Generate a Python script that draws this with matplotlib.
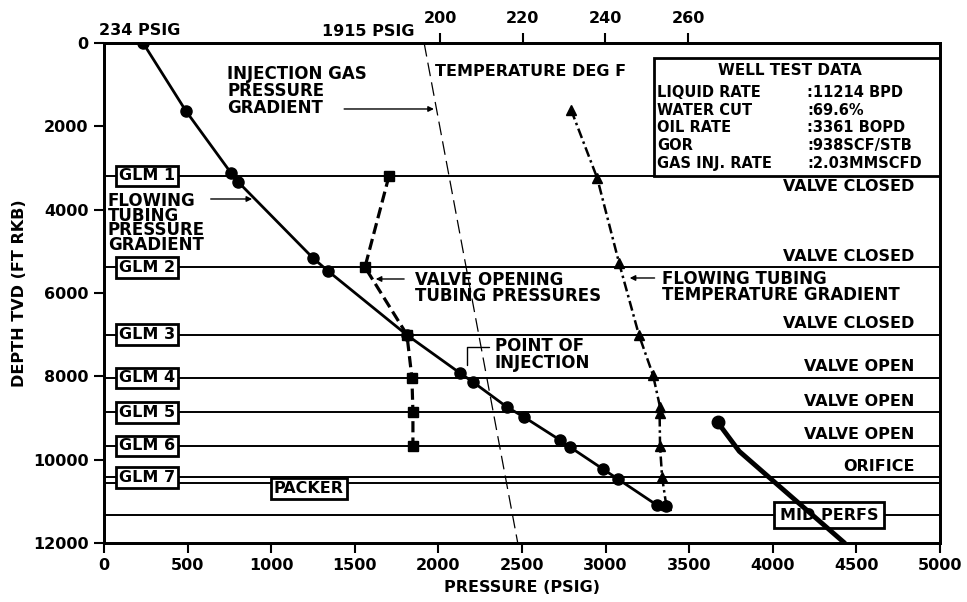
import matplotlib.pyplot as plt
from matplotlib.patches import Rectangle

plt.rcParams['font.family'] = ['DejaVu Sans']
plt.rcParams['font.weight'] = 'bold'

# flowing tubing pressure gradient (psig vs ft)
ftp_psig = [234, 490, 760, 803, 1250, 1340, 1812, 2129, 2207, 2410, 2512,
            2727, 2787, 2984, 3074, 3307, 3362]
ftp_depth = [0, 1630, 3120, 3336, 5160, 5472, 7008, 7920, 8136, 8736, 8976,
             9528, 9696, 10224, 10464, 11090, 11110]

# valve opening tubing pressures
vo_psig = [1705, 1561, 1812, 1842, 1848, 1848]
vo_depth = [3190, 5380, 7000, 8040, 8860, 9670]

# injection gas pressure gradient
gas_psig = [1915, 2475]
gas_depth = [0, 12000]

# flowing tubing temperature gradient (deg F)
temp_degf = [231.7, 238.0, 243.3, 248.1, 251.5, 253.2, 253.1, 253.2, 253.7, 254.7]
temp_depth = [1608, 3240, 5280, 7008, 7968, 8736, 8880, 9670, 10420, 11090]

# reservoir line below the perfs
res_psig = [3670, 3800, 4000, 4430]
res_depth = [9100, 9800, 10500, 12000]

# mandrels
glm_names = ['GLM 1', 'GLM 2', 'GLM 3', 'GLM 4', 'GLM 5', 'GLM 6', 'GLM 7']
glm_depth = [3190, 5380, 7000, 8040, 8860, 9670, 10420]
glm_status = ['VALVE CLOSED', 'VALVE CLOSED', 'VALVE CLOSED', 'VALVE OPEN',
              'VALVE OPEN', 'VALVE OPEN', 'ORIFICE']
packer_depth = 10570
perfs_depth = 11330

well_rows = ['LIQUID RATE', 'WATER CUT', 'OIL RATE', 'GOR', 'GAS INJ. RATE']
well_vals = [':11214 BPD', ':69.6%', ':3361 BOPD', ':938SCF/STB', ':2.03MMSCFD']

fig = plt.figure(figsize=(9.67, 6.02), dpi=100)
ax = fig.add_axes([0.1075, 0.098, 0.8645, 0.8306])

ax.set_xlim(0, 5000)
ax.set_ylim(12000, 0)
ax.set_xticks(range(0, 5001, 500))
ax.set_yticks(range(0, 12001, 2000))
ax.tick_params(direction='out', length=7, width=1.5, labelsize=11.5, pad=4)
for s in ax.spines.values():
    s.set_linewidth(2)
ax.set_xlabel('PRESSURE (PSIG)', fontsize=11.5, fontweight='bold', labelpad=5)
ax.set_ylabel('DEPTH TVD (FT RKB)', fontsize=11.5, fontweight='bold', labelpad=4)

# horizontal reference lines
ax.hlines(glm_depth, 0, 5000, colors='black', lw=1.4, zorder=1)
ax.hlines([packer_depth, perfs_depth], 0, 5000, colors='black', lw=1.4, zorder=1)

box = dict(boxstyle='square,pad=0.18', fc='white', ec='black', lw=2)
for name, d in zip(glm_names, glm_depth):
    ax.text(257, d, name, ha='center', va='center', fontsize=11.5, bbox=box, zorder=3)
for st, d in zip(glm_status, glm_depth):
    ax.text(4850, d - 265, st, ha='right', va='center', fontsize=11.5, zorder=3)
ax.texts[-len(glm_status)].set_y(3456)

ax.text(1226, 10690, 'PACKER', ha='center', va='center', fontsize=11.5, bbox=box, zorder=3)
ax.text(4336, perfs_depth, 'MID PERFS', ha='center', va='center', fontsize=11.5,
        bbox=dict(boxstyle='square,pad=0.35', fc='white', ec='black', lw=2), zorder=3)

# well test data box
ax.add_patch(Rectangle((3290, 360), 1710, 2830, fc='white', ec='black', lw=2, zorder=3))
ax.text(4100, 650, 'WELL TEST DATA', ha='center', va='center', fontsize=11, zorder=4)
for i, (r, v) in enumerate(zip(well_rows, well_vals)):
    y = 1180 + i * 430
    ax.text(3310, y, r, ha='left', va='center', fontsize=10.5, zorder=4)
    ax.text(4205, y, v, ha='left', va='center', fontsize=10.5, zorder=4)

# curves
ax.plot(gas_psig, gas_depth, color='black', lw=0.9, ls=(0, (11, 5)), zorder=2)
ax.plot(ftp_psig, ftp_depth, color='black', lw=2, marker='o', markersize=8, zorder=5)
ax.plot(vo_psig, vo_depth, color='black', lw=2.3, ls=(0, (3.5, 1.6)),
        marker='s', markersize=7, zorder=5)
ax.plot(res_psig, res_depth, color='black', lw=3.5, marker='o', markersize=9,
        markevery=[0], solid_capstyle='round', zorder=6)

ax2 = ax.twiny()
ax2.set_xlim(118.7, 320.9)
ax2.set_xticks([200, 220, 240, 260])
ax2.tick_params(direction='out', length=7, width=1.5, labelsize=11.5, pad=5)
for s in ax2.spines.values():
    s.set_linewidth(2)
ax2.plot(temp_degf, temp_depth, color='black', lw=1.8, ls=(0, (4, 1.5, 1, 1.5)),
         marker='^', markersize=7, zorder=5)

# annotations
ax.text(215, -300, '234 PSIG', ha='center', va='center', fontsize=11.5, clip_on=False)
ax.text(1860, -270, '1915 PSIG', ha='right', va='center', fontsize=11.5, clip_on=False)
ax.text(1980, 696, 'TEMPERATURE DEG F', ha='left', va='center', fontsize=11.5)

arrow = dict(arrowstyle='-|>', color='black', lw=1, mutation_scale=8)
ax.annotate('', xy=(1990, 1584), xytext=(1420, 1584), arrowprops=arrow)
ax.text(736, 1150, 'INJECTION GAS\nPRESSURE\nGRADIENT', ha='left', va='center',
        fontsize=12, linespacing=0.95)

ax.annotate('', xy=(903, 3744), xytext=(622, 3744), arrowprops=arrow)
ax.text(24, 4320, 'FLOWING\nTUBING\nPRESSURE\nGRADIENT', ha='left', va='center',
        fontsize=12, linespacing=0.78)

ax.annotate('', xy=(1609, 5664), xytext=(1812, 5664), arrowprops=arrow)
ax.text(1860, 5880, 'VALVE OPENING\nTUBING PRESSURES', ha='left', va='center',
        fontsize=12, linespacing=0.9)

ax.annotate('', xy=(3128, 5640), xytext=(3310, 5640), arrowprops=arrow)
ax.text(3337, 5860, 'FLOWING TUBING\nTEMPERATURE GRADIENT', ha='left', va='center',
        fontsize=12, linespacing=0.9)

ax.annotate('POINT OF\nINJECTION', xy=(2171, 7800), xytext=(2338, 7476),
            ha='left', va='center', fontsize=12, linespacing=0.9,
            arrowprops=dict(arrowstyle='-', color='black', lw=1,
                            connectionstyle='angle,angleA=0,angleB=90,rad=0',
                            relpos=(0, 0.72)))

fig.savefig('out.png', dpi=100)
